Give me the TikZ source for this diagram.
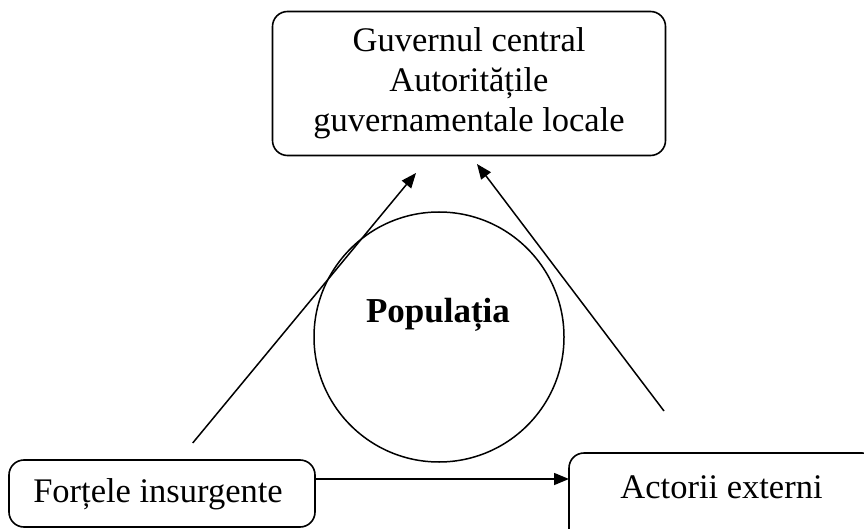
\documentclass[tikz,border=0pt]{standalone}
\usepackage{fontspec}
\setmainfont{Liberation Serif}
\usetikzlibrary{arrows.meta}
\begin{document}
\begin{tikzpicture}[x=1pt,y=-1pt,
  every node/.style={inner sep=0pt,outer sep=0pt},
  rbox/.style={draw,line width=1.6pt,rounded corners=15pt},
  txt/.style={font=\fontsize{34.5}{40}\selectfont,align=center},
  conn/.style={line width=1.5pt,-{Triangle[length=15pt,width=12pt]}}]
\useasboundingbox (0,0) rectangle (864,529);
% top box
\node[rbox,txt,minimum width=393pt,minimum height=144pt] (gov) at (469,83.5)
  {Guvernul central\\Autoritățile\\guvernamentale locale};
% circle
\node[draw,circle,line width=1.5pt,minimum size=250pt] (pop) at (439,337) {};
\node[font=\fontsize{35}{40}\selectfont\bfseries,anchor=base] (poptext) at (438,322) {Populația};
% bottom left box
\node[rbox,minimum width=306pt,minimum height=67pt] (insbox) at (162,493.5) {};
\node[txt,anchor=base] (ins) at (158,502) {Forțele insurgente};
% bottom right box
\node[rbox,minimum width=308pt,minimum height=92pt] (extbox) at (723,499) {};
\node[txt,anchor=base] (ext) at (721.5,498) {Actorii externi};
% connector endpoints
\coordinate (a1) at (192.7,443);
\coordinate (a1t) at (416,173);
\coordinate (a2) at (664,411);
\coordinate (a2t) at (477,164);
\draw[conn] (a1) -- (a1t);
\draw[conn] (a2) -- (a2t);
\draw[conn] (insbox.east |- 0,479) -- (extbox.west |- 0,479);
\end{tikzpicture}
\end{document}
